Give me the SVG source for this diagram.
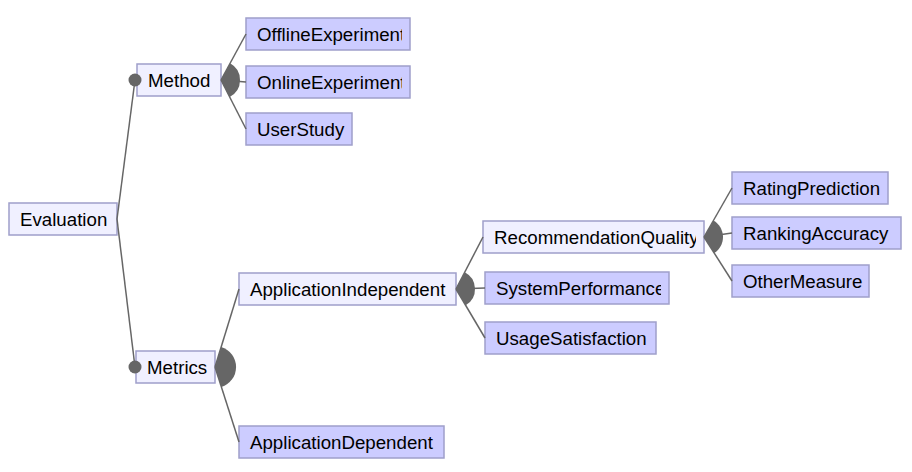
<svg xmlns="http://www.w3.org/2000/svg" width="912" height="472" viewBox="0 0 912 472">
<style>
.abs{fill:#f0f0ff;stroke:#9f9fca;stroke-width:1.5}
.con{fill:#ccccff;stroke:#9f9fca;stroke-width:1.5}
.lbl{font-family:"Liberation Sans",Arial,sans-serif;font-size:18.7px;fill:#000}
.ln{stroke:#666;stroke-width:1.5;fill:none}
.fan{fill:#666;stroke:none}
.dot{fill:#666}
</style>
<defs>
<clipPath id="c1"><rect x="246" y="18" width="156" height="32"/></clipPath>
<clipPath id="c2"><rect x="246" y="66" width="156" height="32"/></clipPath>
<clipPath id="c3"><rect x="483" y="221" width="213" height="32"/></clipPath>
<clipPath id="c4"><rect x="485" y="272" width="176" height="32"/></clipPath>
</defs>
<rect width="912" height="472" fill="#fff"/>
<g id="Evaluation"><rect class="abs" x="9" y="203" width="108" height="32"/><text class="lbl" x="20" y="226">Evaluation</text></g>
<g id="Method"><rect class="abs" x="137" y="64" width="84" height="32"/><text class="lbl" x="148" y="87">Method</text></g>
<g id="OfflineExperiment"><rect class="con" x="246" y="18" width="164" height="32"/><text class="lbl" x="257" y="41" clip-path="url(#c1)">OfflineExperiment</text></g>
<g id="OnlineExperiment"><rect class="con" x="246" y="66" width="164" height="32"/><text class="lbl" x="257" y="89" clip-path="url(#c2)">OnlineExperiment</text></g>
<g id="UserStudy"><rect class="con" x="246" y="113" width="106" height="32"/><text class="lbl" x="257" y="136">UserStudy</text></g>
<g id="Metrics"><rect class="abs" x="136" y="351" width="79" height="32"/><text class="lbl" x="147" y="374">Metrics</text></g>
<g id="ApplicationIndependent"><rect class="abs" x="239" y="273" width="217" height="32"/><text class="lbl" x="250" y="296">ApplicationIndependent</text></g>
<g id="ApplicationDependent"><rect class="con" x="239" y="426" width="205" height="32"/><text class="lbl" x="250" y="449">ApplicationDependent</text></g>
<g id="RecommendationQuality"><rect class="abs" x="483" y="221" width="221" height="32"/><text class="lbl" x="494" y="244" clip-path="url(#c3)">RecommendationQuality</text></g>
<g id="SystemPerformance"><rect class="con" x="485" y="272" width="184" height="32"/><text class="lbl" x="496" y="295" clip-path="url(#c4)">SystemPerformance</text></g>
<g id="UsageSatisfaction"><rect class="con" x="485" y="322" width="171" height="32"/><text class="lbl" x="496" y="345">UsageSatisfaction</text></g>
<g id="RatingPrediction"><rect class="con" x="732" y="172" width="156" height="32"/><text class="lbl" x="743" y="195">RatingPrediction</text></g>
<g id="RankingAccuracy"><rect class="con" x="732" y="217" width="169" height="32"/><text class="lbl" x="743" y="240">RankingAccuracy</text></g>
<g id="OtherMeasure"><rect class="con" x="732" y="265" width="137" height="32"/><text class="lbl" x="743" y="288">OtherMeasure</text></g>
<g id="connectors">
<line class="ln" x1="117" y1="219" x2="135" y2="80"/>
<line class="ln" x1="117" y1="219" x2="135" y2="367"/>
<circle class="dot" cx="135" cy="80" r="6.5"/>
<circle class="dot" cx="135" cy="367" r="6.5"/>
<line class="ln" x1="221" y1="80" x2="246" y2="34"/>
<line class="ln" x1="221" y1="80" x2="246" y2="82"/>
<line class="ln" x1="221" y1="80" x2="246" y2="129"/>
<path class="fan" d="M221,80 L230.07,63.3 A19,19 0 0,1 229.64,96.93 Z"/>
<line class="ln" x1="215" y1="367" x2="239" y2="289"/>
<line class="ln" x1="215" y1="367" x2="239" y2="442"/>
<path class="fan" d="M215,367 L221.2,346.9 A21,21 0 0,1 221.4,387 Z"/>
<line class="ln" x1="456" y1="289" x2="483" y2="237"/>
<line class="ln" x1="456" y1="289" x2="485" y2="288"/>
<line class="ln" x1="456" y1="289" x2="485" y2="338"/>
<path class="fan" d="M456,289 L464.76,272.14 A19,19 0 0,1 465.68,305.35 Z"/>
<line class="ln" x1="704" y1="237" x2="732" y2="188"/>
<line class="ln" x1="704" y1="237" x2="732" y2="233"/>
<line class="ln" x1="704" y1="237" x2="732" y2="281"/>
<path class="fan" d="M704,237 L713.43,220.5 A19,19 0 0,1 714.2,253.03 Z"/>
</g>
</svg>
